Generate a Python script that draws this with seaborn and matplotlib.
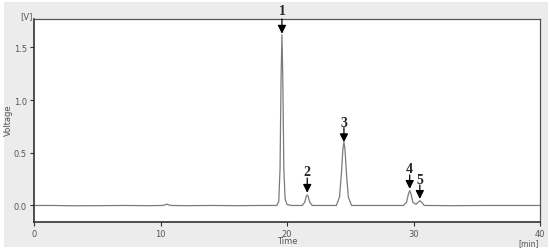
import numpy as np
import matplotlib.pyplot as plt
import seaborn as sns
from matplotlib.patches import Rectangle

# chromatogram trace (time in min, voltage in V)
times = [0, 1.5, 3, 5, 7, 9, 10.2, 10.5, 10.8, 12, 14, 16, 18, 19.2,
         19.35, 19.45, 19.53, 19.6, 19.67, 19.75, 19.85, 20.0, 20.3,
         21.2, 21.4, 21.52, 21.6, 21.68, 21.8, 22.0, 23.9, 24.15, 24.3,
         24.42, 24.5, 24.58, 24.7, 24.85, 25.1, 29.2, 29.45, 29.6, 29.7,
         29.8, 29.95, 30.2, 30.35, 30.5, 30.65, 30.85, 33, 36, 40]
volts = [0.0, 0.0, -0.003, -0.002, 0.0, -0.002, 0.0, 0.012, 0.0, -0.002,
         0.0, -0.002, 0.0, 0.0,
         0.04, 0.35, 1.2, 1.62, 1.2, 0.35, 0.06, 0.01, 0.0,
         0.0, 0.03, 0.085, 0.10, 0.085, 0.03, 0.0, 0.0, 0.08, 0.3,
         0.54, 0.60, 0.54, 0.3, 0.08, 0.0, 0.0, 0.03, 0.11, 0.14,
         0.11, 0.03, 0.01, 0.03, 0.045, 0.03, 0.0, -0.002, 0.0, 0.0]

# peak labels: name, apex time, text y, arrow tail y, arrow head y
peak_names = ["1", "2", "3", "4", "5"]
peak_times = [19.6, 21.6, 24.5, 29.7, 30.5]
label_y = [1.85, 0.32, 0.79, 0.35, 0.25]
tail_y = [1.77, 0.26, 0.74, 0.29, 0.195]
head_y = [1.63, 0.12, 0.60, 0.157, 0.062]

sns.set_style("white")
fig = plt.figure(figsize=(5.5, 2.51), dpi=100, facecolor="white")
fig.patches.append(Rectangle((4 / 550, 3 / 251), 544 / 550, 245 / 251,
                             transform=fig.transFigure, facecolor="#ececec",
                             edgecolor="none", zorder=-1))
ax = fig.add_axes([34 / 550, 28 / 251, 506 / 550, 203 / 251])
ax.set_facecolor("white")

sns.lineplot(x=times, y=volts, ax=ax, estimator=None, sort=False,
             color="#7a7a7a", linewidth=0.9)

ax.set_xlim(0, 40)
ax.set_ylim(-0.157, 1.77)
ax.set_xticks([0, 10, 20, 30, 40])
ax.set_yticks([0.0, 0.5, 1.0, 1.5])
ax.set_xticklabels(["0", "10", "20", "30", "40"])
ax.set_yticklabels(["0.0", "0.5", "1.0", "1.5"])
ax.tick_params(axis="both", labelsize=6, colors="#555555", length=3,
               width=0.8, direction="out", pad=2)
ax.tick_params(axis="both", color="#333333")
ax.tick_params(left=True, bottom=True)

for side in ["left", "bottom"]:
    ax.spines[side].set_color("#333333")
    ax.spines[side].set_linewidth(1.2)
for side in ["top", "right"]:
    ax.spines[side].set_color("#555555")
    ax.spines[side].set_linewidth(0.9)

ax.set_xlabel("")
ax.set_ylabel("")
fig.text(8 / 550, 1 - 120 / 251, "Voltage", rotation=90, ha="center",
         va="center", fontsize=6, color="#555555")
fig.text(287 / 550, 1 - 242 / 251, "Time", ha="center", va="center",
         fontsize=6, color="#555555")
fig.text(26 / 550, 1 - 17 / 251, "[V]", ha="center", va="center",
         fontsize=6, color="#555555")
fig.text(529 / 550, 1 - 243.5 / 251, "[min]", ha="center", va="center",
         fontsize=5.5, color="#555555")

for name, t, ly, ty, hy in zip(peak_names, peak_times, label_y, tail_y, head_y):
    ax.annotate("", xy=(t, hy), xytext=(t, ty), annotation_clip=False,
                arrowprops=dict(arrowstyle="-|>,head_length=0.5,head_width=0.25",
                                color="black", lw=0.9, shrinkA=0, shrinkB=0))
    ax.text(t, ly, name, ha="center", va="center", fontsize=10,
            fontweight="bold", family="Liberation Serif", clip_on=False)

fig.savefig("out.png", dpi=100, facecolor=fig.get_facecolor())
